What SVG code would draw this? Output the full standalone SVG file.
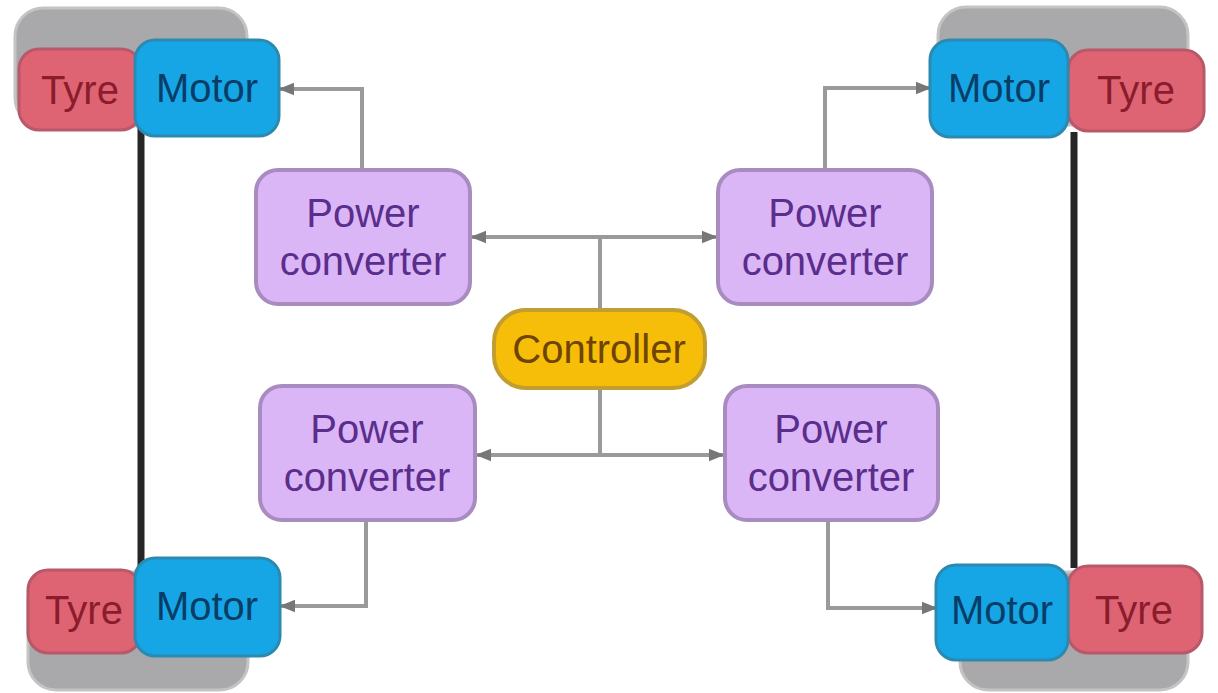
<svg xmlns="http://www.w3.org/2000/svg" width="1218" height="693" viewBox="0 0 1218 693">
<style>
text{font-family:"Liberation Sans",Arial,sans-serif;font-size:40px;text-anchor:middle;dominant-baseline:central}
.wheelbg{fill:#a9a9ab;stroke:#c4c4c4;stroke-width:3}
.tyre{fill:#de6474;stroke:#b85868;stroke-width:3}
.tyre-t{fill:#8a1c2c}
.motor{fill:#16a6e6;stroke:#2c8ab0;stroke-width:3}
.motor-t{fill:#073d66}
.pc{fill:#dab6f6;stroke:#a88cc0;stroke-width:4}
.pc-t{fill:#5b2d8c}
.ctrl{fill:#f6be08;stroke:#c29e30;stroke-width:4}
.ctrl-t{fill:#6e4400}
.axle{stroke:#262626;stroke-width:7;fill:none}
.wire{stroke:#9a9a9a;stroke-width:4;fill:none}
</style>
<defs>
<marker id="arr" viewBox="0 0 10 10" refX="9" refY="5" markerWidth="4" markerHeight="4" orient="auto">
<path d="M0,1 L10,5 L0,9 z" fill="#777"/>
</marker>
</defs>
<rect width="1218" height="693" fill="#ffffff"/>

<g id="connectors">
<line class="axle" x1="141" y1="128" x2="141" y2="572"/>
<line class="axle" x1="1074" y1="132" x2="1074" y2="568"/>
<polyline class="wire" points="362,170 362,89 280,89" marker-end="url(#arr)"/>
<polyline class="wire" points="825,170 825,88 930,88" marker-end="url(#arr)"/>
<polyline class="wire" points="366,520 366,606 281,606" marker-end="url(#arr)"/>
<polyline class="wire" points="828,520 828,608 936,608" marker-end="url(#arr)"/>
<line class="wire" x1="600" y1="310" x2="600" y2="237"/>
<line class="wire" x1="600" y1="237" x2="472" y2="237" marker-end="url(#arr)"/>
<line class="wire" x1="600" y1="237" x2="716" y2="237" marker-end="url(#arr)"/>
<line class="wire" x1="600" y1="388" x2="600" y2="455"/>
<line class="wire" x1="600" y1="455" x2="477" y2="455" marker-end="url(#arr)"/>
<line class="wire" x1="600" y1="455" x2="723" y2="455" marker-end="url(#arr)"/>
</g>

<g id="wheel-tl">
<rect class="wheelbg" x="15" y="8" width="232" height="118" rx="28"/>
<rect class="tyre" x="19" y="49" width="122" height="81" rx="20"/>
<text class="tyre-t" x="80" y="90">Tyre</text>
<rect class="motor" x="135" y="40" width="144" height="96" rx="20"/>
<text class="motor-t" x="207" y="88">Motor</text>
</g>

<g id="wheel-tr">
<rect class="wheelbg" x="938" y="7" width="250" height="118" rx="28"/>
<rect class="tyre" x="1068" y="50" width="136" height="81" rx="20"/>
<text class="tyre-t" x="1136" y="90">Tyre</text>
<rect class="motor" x="930" y="40" width="138" height="97" rx="20"/>
<text class="motor-t" x="999" y="88">Motor</text>
</g>

<g id="wheel-bl">
<rect class="wheelbg" x="28" y="572" width="220" height="118" rx="28"/>
<rect class="tyre" x="28" y="570" width="113" height="83" rx="20"/>
<text class="tyre-t" x="84" y="610">Tyre</text>
<rect class="motor" x="135" y="558" width="145" height="98" rx="20"/>
<text class="motor-t" x="207" y="606">Motor</text>
</g>

<g id="wheel-br">
<rect class="wheelbg" x="960" y="572" width="228" height="118" rx="28"/>
<rect class="tyre" x="1068" y="566" width="134" height="87" rx="20"/>
<text class="tyre-t" x="1134" y="610">Tyre</text>
<rect class="motor" x="936" y="565" width="132" height="95" rx="20"/>
<text class="motor-t" x="1002" y="610">Motor</text>
</g>

<g id="pc-tl">
<rect class="pc" x="256" y="170" width="214" height="134" rx="22"/>
<text class="pc-t" x="363" y="213">Power</text>
<text class="pc-t" x="363" y="261">converter</text>
</g>

<g id="pc-tr">
<rect class="pc" x="718" y="170" width="214" height="134" rx="22"/>
<text class="pc-t" x="825" y="213">Power</text>
<text class="pc-t" x="825" y="261">converter</text>
</g>

<g id="pc-bl">
<rect class="pc" x="260" y="386" width="215" height="134" rx="22"/>
<text class="pc-t" x="367" y="429">Power</text>
<text class="pc-t" x="367" y="477">converter</text>
</g>

<g id="pc-br">
<rect class="pc" x="725" y="386" width="213" height="134" rx="22"/>
<text class="pc-t" x="831" y="429">Power</text>
<text class="pc-t" x="831" y="477">converter</text>
</g>

<g id="controller">
<rect class="ctrl" x="494" y="310" width="211" height="78" rx="32"/>
<text class="ctrl-t" x="599" y="349">Controller</text>
</g>
</svg>
